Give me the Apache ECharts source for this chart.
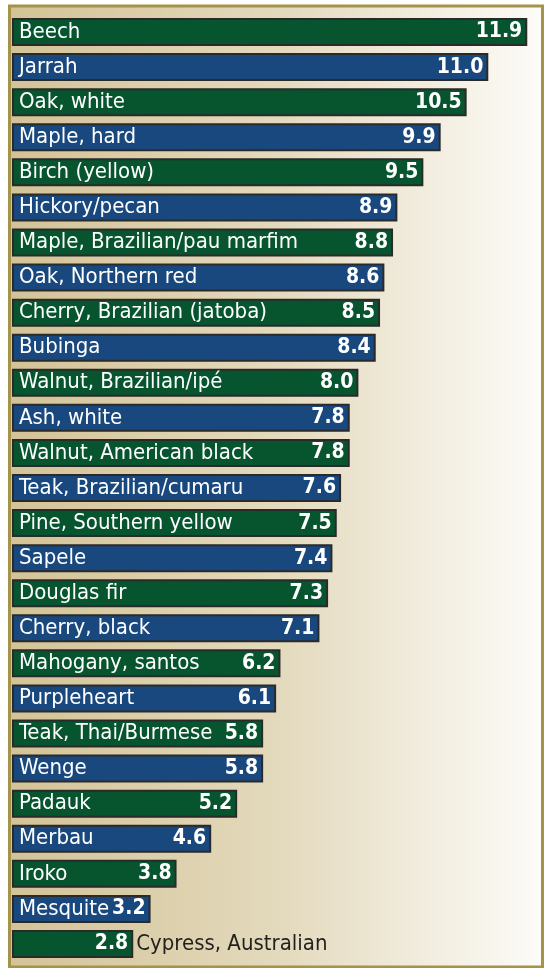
<!DOCTYPE html>
<html>
<head>
<meta charset="utf-8">
<style>
  html, body { margin: 0; padding: 0; background: #ffffff; }
  #chart { width: 544px; height: 968px; }
</style>
<script src="https://cdn.jsdelivr.net/npm/echarts@6/dist/echarts.min.js"></script>
</head>
<body>
<div id="chart"></div>
<script>
// Data
const woods = [
    'Beech', 'Jarrah', 'Oak, white', 'Maple, hard', 'Birch (yellow)', 'Hickory/pecan',
    'Maple, Brazilian/pau marfim', 'Oak, Northern red', 'Cherry, Brazilian (jatoba)', 'Bubinga',
    'Walnut, Brazilian/ipé', 'Ash, white', 'Walnut, American black', 'Teak, Brazilian/cumaru',
    'Pine, Southern yellow', 'Sapele', 'Douglas fir', 'Cherry, black', 'Mahogany, santos',
    'Purpleheart', 'Teak, Thai/Burmese', 'Wenge', 'Padauk', 'Merbau', 'Iroko', 'Mesquite',
    'Cypress, Australian'
];
const hardness = [
    11.9, 11.0, 10.5, 9.9, 9.5, 8.9, 8.8, 8.6, 8.5, 8.4, 8.0, 7.8, 7.8, 7.6,
    7.5, 7.4, 7.3, 7.1, 6.2, 6.1, 5.8, 5.8, 5.2, 4.6, 3.8, 3.2, 2.8
];
// names shown outside the bar (too short to hold them)
const outsideNames = ['Cypress, Australian'];

// Style
const COLORS = ['#07552f', '#19487f'];
const FONT = '"DejaVu Sans Condensed", sans-serif';

const chart = echarts.init(document.getElementById('chart'), null, { renderer: 'canvas' });

const valueData = hardness.map((v, i) => ({
    value: v,
    itemStyle: { color: COLORS[i % 2] }
}));

const nameData = hardness.map((v, i) => {
    const outside = outsideNames.indexOf(woods[i]) >= 0;
    return {
        value: v,
        label: outside
            ? { position: 'right', distance: 3, color: '#231f1c' }
            : {}
    };
});

const option = {
    animation: false,
    graphic: [{
        type: 'rect',
        z: -10,
        silent: true,
        shape: { x: 9.5, y: 6, width: 533, height: 961 },
        style: {
            fill: new echarts.graphic.LinearGradient(0, 0, 1, 0, [
                { offset: 0, color: '#d3c397' },
                { offset: 0.5, color: '#e3d9bc' },
                { offset: 1, color: '#fdfcf9' }
            ]),
            stroke: '#a59349',
            lineWidth: 3
        }
    }],
    grid: { left: 12, right: 12.4, top: 14.5, bottom: 6.5, containLabel: false },
    xAxis: { type: 'value', min: 0, max: 12, show: false },
    yAxis: {
        type: 'category',
        data: woods,
        inverse: true,
        show: false
    },
    series: [
        {
            type: 'bar',
            data: valueData,
            barWidth: 28,
            itemStyle: { borderColor: '#2a2a2a', borderWidth: 2 },
            label: {
                show: true,
                position: 'insideRight',
                distance: 5,
                formatter: p => p.value.toFixed(1),
                color: '#ffffff',
                fontFamily: FONT,
                fontWeight: 'bold',
                fontSize: 21
            }
        },
        {
            type: 'bar',
            data: nameData,
            barWidth: 28,
            barGap: '-100%',
            itemStyle: { color: 'transparent' },
            label: {
                show: true,
                position: 'insideLeft',
                distance: 7,
                formatter: p => p.name,
                color: '#ffffff',
                fontFamily: FONT,
                fontSize: 22
            }
        }
    ]
};

chart.setOption(option);
</script>
</body>
</html>
